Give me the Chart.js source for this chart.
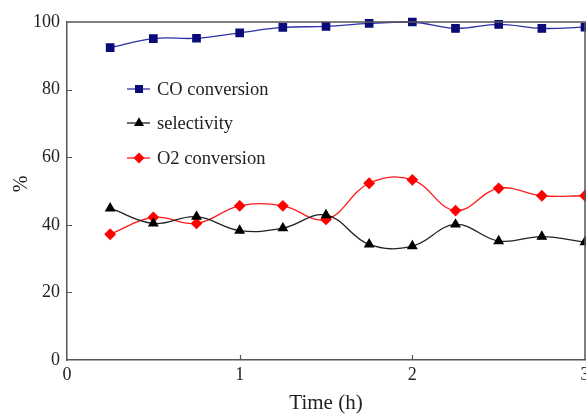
<!DOCTYPE html>
<html>
<head>
<meta charset="utf-8">
<script src="https://cdn.jsdelivr.net/npm/chart.js@4/dist/chart.umd.min.js"></script>
<style>
html,body{margin:0;padding:0;background:#fff;overflow:hidden;}
#wrap{width:586px;height:414px;position:relative;}
</style>
</head>
<body>
<div id="wrap"><canvas id="c" width="586" height="414"></canvas></div>
<script>
const timeHours = [0.25, 0.5, 0.75, 1.0, 1.25, 1.5, 1.75, 2.0, 2.25, 2.5, 2.75, 3.0];
const coConversion = [92.4, 95.1, 95.2, 96.8, 98.4, 98.7, 99.6, 100.0, 98.1, 99.3, 98.1, 98.5];
const selectivity = [44.9, 40.4, 42.4, 38.3, 39.0, 42.9, 34.2, 33.7, 40.1, 35.2, 36.5, 34.9];
const o2Conversion = [37.2, 42.2, 40.4, 45.6, 45.6, 41.6, 52.3, 53.3, 44.2, 50.8, 48.6, 48.6];
const seriesNames = ['CO conversion', 'selectivity', 'O2 conversion'];
const xTicks = [0, 1, 2, 3];
const yTicks = [0, 20, 40, 60, 80, 100];

const FONT = 'Liberation Serif';
const AXIS = '#555555';

function pts(ys){ return timeHours.map((x,i)=>({x:x, y:ys[i]})); }

const frame = {
  id:'frame',
  afterDatasetsDraw(chart){
    const {ctx, chartArea:a, scales} = chart;
    ctx.save();
    ctx.strokeStyle = AXIS; ctx.lineWidth = 1.5;
    ctx.beginPath();
    ctx.moveTo(a.left, a.top); ctx.lineTo(a.right, a.top); ctx.lineTo(a.right, a.bottom);
    ctx.stroke();
    // inward tick marks
    ctx.lineWidth = 1.2;
    ctx.beginPath();
    xTicks.forEach(v=>{
      if (v === xTicks[0] || v === xTicks[xTicks.length-1]) return;
      const px = Math.round(scales.x.getPixelForValue(v)) + 0.5;
      ctx.moveTo(px, a.bottom); ctx.lineTo(px, a.bottom - 5);
    });
    yTicks.forEach(v=>{
      if (v === yTicks[0] || v === yTicks[yTicks.length-1]) return;
      const py = Math.round(scales.y.getPixelForValue(v)) + 0.5;
      ctx.moveTo(a.left, py); ctx.lineTo(a.left + 5, py);
    });
    ctx.stroke();
    ctx.restore();
  }
};

const legendIn = {
  id:'legendIn',
  afterDraw(chart){
    const ctx = chart.ctx;
    const rows = [89, 123, 158];
    ctx.save();
    chart.data.datasets.forEach((ds, i)=>{
      const y = rows[i];
      ctx.strokeStyle = ds.borderColor; ctx.lineWidth = 1.3;
      ctx.beginPath(); ctx.moveTo(127, y); ctx.lineTo(150, y); ctx.stroke();
      ctx.fillStyle = ds.pointBackgroundColor; ctx.strokeStyle = ds.pointBorderColor;
      Chart.helpers.drawPoint(ctx, {pointStyle: ds.pointStyle, radius: ds.pointRadius - 0.5, borderWidth: 1}, 139, y);
      ctx.fillStyle = '#222'; ctx.font = '18.5px "' + FONT + '"';
      ctx.textAlign = 'left'; ctx.textBaseline = 'middle';
      ctx.fillText(seriesNames[i], 157, y + 1);
    });
    ctx.restore();
  }
};

new Chart(document.getElementById('c'), {
  type: 'line',
  data: {
    datasets: [
      {label: seriesNames[0], data: pts(coConversion), borderColor: '#3030a8', pointBackgroundColor: '#0a0a78', pointBorderColor: '#0a0a78', pointStyle: 'rect', pointRadius: 5.2, borderWidth: 1.3, tension: 0.4, clip: false},
      {label: seriesNames[1], data: pts(selectivity), borderColor: '#222222', pointBackgroundColor: '#000000', pointBorderColor: '#000000', pointStyle: 'triangle', pointRadius: 5, borderWidth: 1.3, tension: 0.4, clip: false},
      {label: seriesNames[2], data: pts(o2Conversion), borderColor: '#ff1a1a', pointBackgroundColor: '#ff0000', pointBorderColor: '#ff0000', pointStyle: 'rectRot', pointRadius: 5, borderWidth: 1.3, tension: 0.4, clip: false}
    ]
  },
  options: {
    responsive: false,
    animation: false,
    layout: {autoPadding: false, padding: {top: 22, right: 1, left: 0, bottom: 0}},
    plugins: {legend: {display: false}, tooltip: {enabled: false}},
    scales: {
      x: {
        type: 'linear', min: 0, max: 3,
        afterBuildTicks(s){ s.ticks = xTicks.map(v=>({value:v})); },
        afterFit(s){ s.height = 54; s.paddingRight = 0; s.paddingLeft = 0; },
        ticks: {color: '#222', font: {family: FONT, size: 18}, padding: 4, maxRotation: 0},
        grid: {drawOnChartArea: false, drawTicks: false},
        border: {color: AXIS, width: 1.5},
        title: {display: true, text: 'Time (h)', color: '#222', font: {family: FONT, size: 21, lineHeight: 1}, padding: {top: 0, bottom: 0}}
      },
      y: {
        min: 0, max: 100,
        afterBuildTicks(s){ s.ticks = yTicks.map(v=>({value:v})); },
        afterFit(s){ s.width = 67; s.paddingTop = 0; s.paddingBottom = 0; },
        ticks: {color: '#222', font: {family: FONT, size: 18}, padding: 7},
        grid: {drawOnChartArea: false, drawTicks: false},
        border: {color: AXIS, width: 1.5},
        title: {display: true, text: '\u2002\u2009%', color: '#222', font: {family: FONT, size: 20, lineHeight: 1}, padding: {top: 12, bottom: 0}}
      }
    }
  },
  plugins: [frame, legendIn]
});
</script>
</body>
</html>
